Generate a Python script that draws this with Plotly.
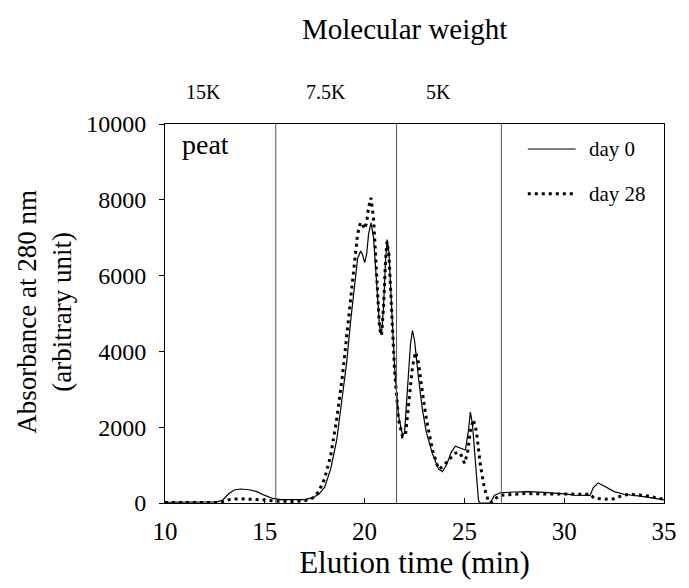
import plotly.graph_objects as go

# ---- data ----
time_day0 = [10.0, 11.0, 12.0, 12.6, 12.9, 13.2, 13.5, 13.8, 14.2, 14.6, 15.0, 15.4, 15.8, 16.5, 17.0,
             17.4, 17.7, 18.0, 18.3, 18.6, 18.9, 19.1, 19.3, 19.5, 19.65, 19.8, 19.9, 20.0, 20.1, 20.2,
             20.32, 20.45, 20.6, 20.75, 20.85, 20.95, 21.05, 21.13, 21.22, 21.35, 21.5, 21.7, 21.9, 22.0,
             22.15, 22.3, 22.4, 22.5, 22.7, 22.9, 23.1, 23.4, 23.7, 23.9, 24.1, 24.35, 24.55, 24.8, 25.05,
             25.2, 25.3, 25.4, 25.55, 25.7, 25.75, 26.3, 26.5, 26.8, 27.5, 28.2, 29.0, 29.5, 30.0, 30.5,
             31.0, 31.3, 31.45, 31.7, 32.0, 32.5, 33.0, 34.0, 35.0]
abs_day0 = [20, 20, 20, 30, 80, 250, 350, 370, 350, 300, 200, 120, 90, 80, 90,
            140, 230, 420, 900, 1650, 2800, 3700, 4800, 5800, 6450, 6650, 6550, 6340, 6550, 7100,
            7390, 7000, 5700, 4650, 4450, 5200, 6400, 6950, 6600, 5200, 3600, 2300, 1800, 1850,
            2900, 4200, 4550, 4300, 3300, 2450, 1850, 1300, 900, 830, 1000, 1350, 1500, 1450, 1400,
            1900, 2400, 2100, 1000, 100, 0, 0, 200, 270, 290, 300, 280, 270, 240, 210,
            200, 200, 400, 530, 450, 300, 230, 170, 80]

time_day28 = [10.0, 12.5, 12.9, 13.3, 13.8, 14.5, 15.0, 15.5, 16.5, 17.0, 17.4, 17.7, 18.0, 18.3, 18.6,
              18.9, 19.1, 19.3, 19.5, 19.65, 19.8, 19.9, 20.0, 20.1, 20.2, 20.32, 20.45, 20.6, 20.75,
              20.85, 20.95, 21.05, 21.12, 21.22, 21.35, 21.5, 21.7, 21.9, 22.05, 22.2, 22.4, 22.55, 22.7,
              22.9, 23.1, 23.4, 23.7, 23.9, 24.2, 24.5, 24.7, 24.85, 25.0, 25.15, 25.3, 25.45, 25.6, 25.8,
              26.0, 26.2, 26.3, 26.5, 26.8, 27.2, 28.0, 29.0, 30.0, 30.5, 31.0, 31.3, 31.5, 32.0, 32.5,
              32.9, 33.3, 34.0, 35.0]
abs_day28 = [10, 10, 40, 100, 110, 100, 80, 50, 40, 60, 130, 300, 650, 1250, 2200,
             3400, 4400, 5500, 6500, 7100, 7400, 7350, 7230, 7400, 7800, 8050, 7500, 5900, 4600,
             4420, 5200, 6400, 6900, 6550, 5100, 3500, 2200, 1750, 1800, 2600, 3600, 3980, 3700,
             2900, 2200, 1400, 900, 950, 1130, 1300, 1340, 1250, 1050, 1300, 1900, 2200, 1900, 1000,
             400, 50, 0, 100, 200, 220, 250, 240, 230, 220, 220, 230, 130, 100, 110,
             200, 230, 200, 100]

mw_line_times = [15.55, 21.6, 26.85]
mw_labels = ["15K", "7.5K", "5K"]
x_ticks = [10, 15, 20, 25, 30, 35]
y_ticks = [0, 2000, 4000, 6000, 8000, 10000]
y_ticktext = ["0", "2000", "4000", "6000", "8000", "10000"]

FONT = "Liberation Serif, Times New Roman, serif"

fig = go.Figure()
fig.add_trace(go.Scatter(x=time_day0, y=abs_day0, mode="lines", name="day 0",
                         line=dict(color="black", width=1.2), showlegend=False))
fig.add_trace(go.Scatter(x=time_day28, y=abs_day28, mode="lines", name="day 28",
                         line=dict(color="black", width=3, dash="3px,4px"), showlegend=False))

for t in mw_line_times:
    fig.add_shape(type="line", xref="x", yref="paper", x0=t, x1=t, y0=0, y1=1,
                  line=dict(color="#555555", width=1))

# MW labels above plot
mw_label_pos = [0.0765, 0.3235, 0.549]
for lbl, px in zip(mw_labels, mw_label_pos):
    fig.add_annotation(text=lbl, xref="paper", yref="paper", x=px, y=1.084, showarrow=False,
                       font=dict(family=FONT, size=20, color="black"), xanchor="center", yanchor="middle")

fig.add_annotation(text="Molecular weight", xref="paper", yref="paper", x=0.48, y=1.25,
                   showarrow=False, font=dict(family=FONT, size=29, color="black"),
                   xanchor="center", yanchor="middle")

fig.add_annotation(text="peat", xref="paper", yref="paper", x=0.031, y=0.947, showarrow=False,
                   font=dict(family=FONT, size=28, color="black"), xanchor="left", yanchor="middle")

fig.add_annotation(text="Absorbance at 280 nm<br>(arbitrary unit)", xref="paper", yref="paper",
                   x=-0.241, y=0.504, textangle=-90, showarrow=False,
                   font=dict(family=FONT, size=27, color="black"), xanchor="center", yanchor="middle")

# manual legend
leg = [("day 0", None, 1.2, 0.934), ("day 28", "3px,4px", 3, 0.816)]
for name, dash, w, yy in leg:
    fig.add_shape(type="line", xref="paper", yref="paper", x0=0.727, x1=0.823, y0=yy, y1=yy,
                  line=dict(color="black", width=w, dash=dash if dash else "solid"))
    fig.add_annotation(text=name, xref="paper", yref="paper", x=0.845, y=yy, showarrow=False,
                       font=dict(family=FONT, size=21, color="black"), xanchor="left", yanchor="middle")

fig.update_layout(
    width=689, height=588,
    margin=dict(l=165, r=14, t=124, b=85),
    paper_bgcolor="white", plot_bgcolor="white",
    font=dict(family=FONT, color="black"),
    xaxis=dict(range=[10, 35], tickvals=x_ticks, ticks="inside", ticklen=5, tickcolor="black",
               showline=True, linecolor="black", linewidth=1, mirror=True, showgrid=False,
               zeroline=False, tickfont=dict(family=FONT, size=25), ticklabelstandoff=6,
               title=dict(text="Elution time (min)", font=dict(family=FONT, size=31), standoff=7)),
    yaxis=dict(range=[0, 10000], tickvals=y_ticks, ticktext=y_ticktext, ticks="outside", ticklen=5,
               tickcolor="black", showline=True, linecolor="black", linewidth=1, mirror=True,
               showgrid=False, zeroline=False, tickfont=dict(family=FONT, size=24), ticklabelstandoff=8),
)

fig.write_html("out.html")
